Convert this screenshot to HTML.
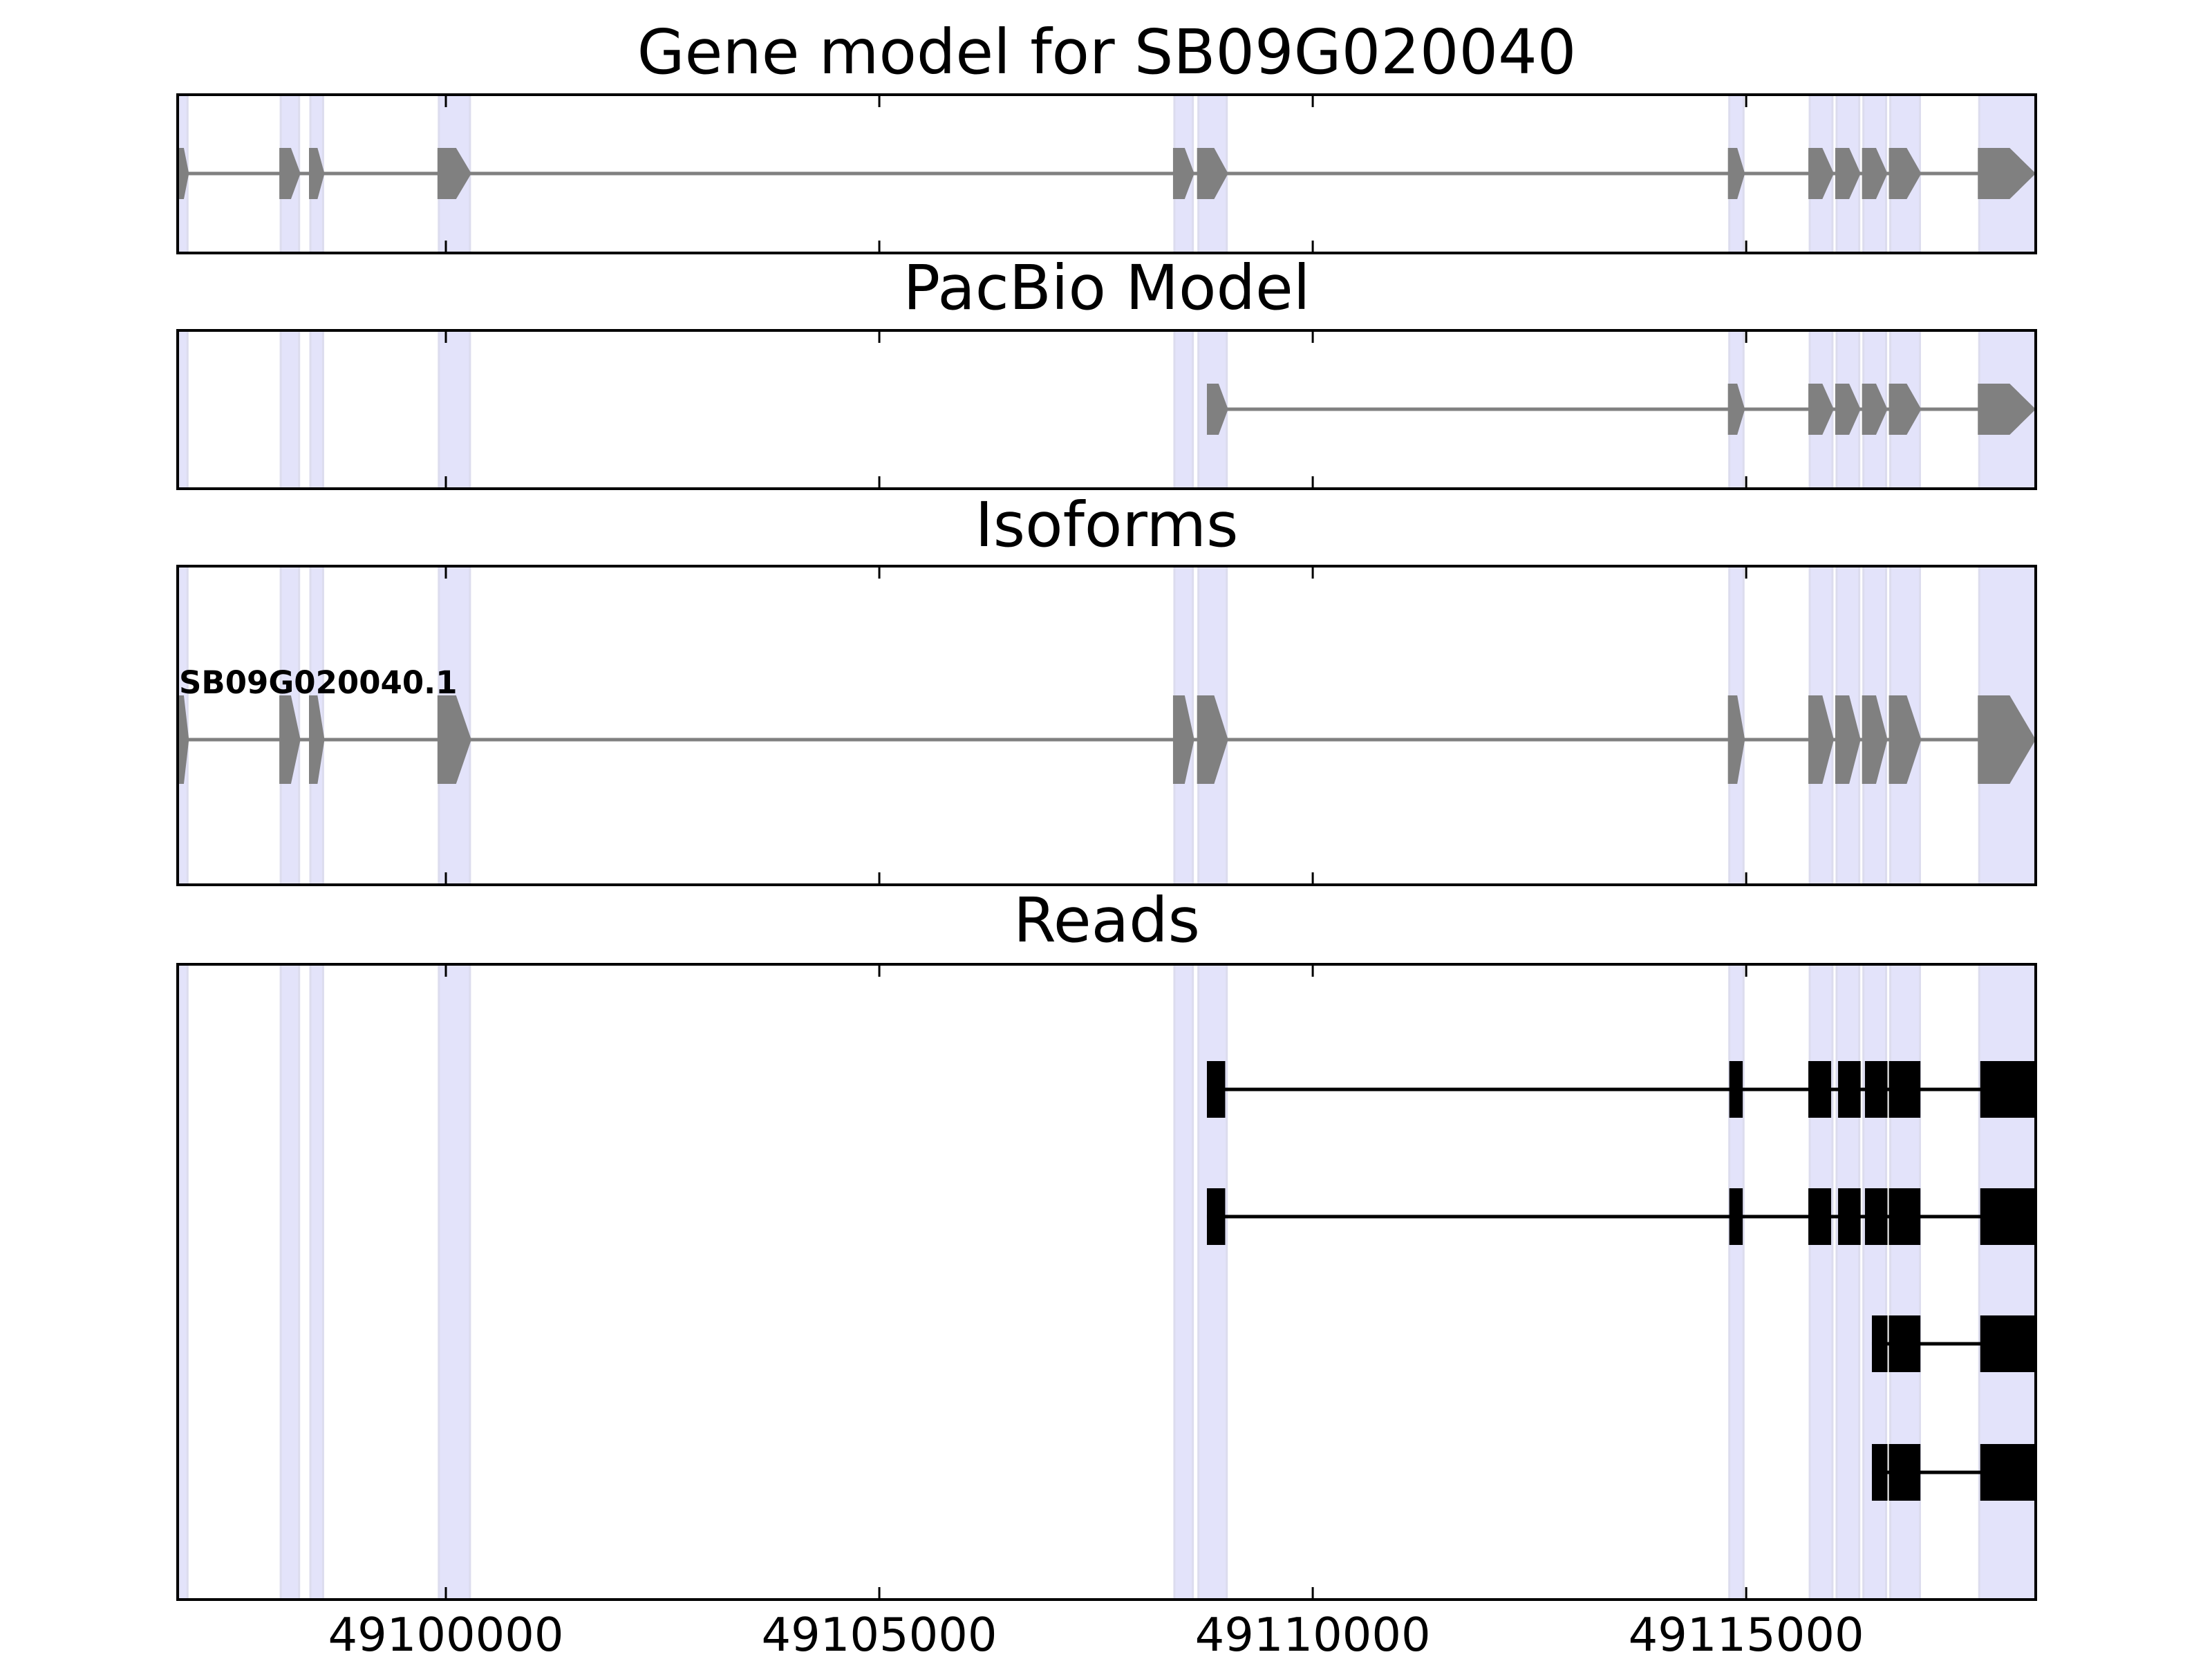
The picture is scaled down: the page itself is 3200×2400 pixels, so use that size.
<!DOCTYPE html>
<html><head><meta charset="utf-8"><style>html,body{margin:0;padding:0;background:#fff}svg{display:block}</style></head>
<body>
<svg id="fig" xmlns="http://www.w3.org/2000/svg" width="3200" height="2400" viewBox="0 0 3200 2400" font-family="'DejaVu Sans','Liberation Sans',sans-serif"></svg>
<script>
const xTicks = [49100000, 49105000, 49110000, 49115000];
const xDomain = [49096906, 49118340];
const geneExonStarts = [49096906, 49098079, 49098421, 49099903, 49108388, 49108665, 49114789, 49115717, 49116027, 49116336, 49116646, 49117672];
const geneExonEnds   = [49097036, 49098323, 49098600, 49100294, 49108633, 49109024, 49114985, 49116011, 49116320, 49116630, 49117020, 49118340];
const pacbioExonStarts = [49108779, 49114789, 49115717, 49116027, 49116336, 49116646, 49117672];
const pacbioExonEnds   = [49109024, 49114985, 49116011, 49116320, 49116630, 49117020, 49118340];
const readAStarts = [49108779, 49114805, 49115717, 49116060, 49116370, 49116646, 49117700];
const readAEnds   = [49108990, 49114960, 49115980, 49116320, 49116630, 49117010, 49118340];
const readBStarts = [49116450, 49116646, 49117700];
const readBEnds   = [49116630, 49117010, 49118340];
const readsStarts = [readAStarts, readAStarts, readBStarts, readBStarts];
const readsEnds = [readAEnds, readAEnds, readBEnds, readBEnds];
const titles = ["Gene model for SB09G020040", "PacBio Model", "Isoforms", "Reads"];

const NS = "http://www.w3.org/2000/svg";
const svg = document.getElementById('fig');
const L = 257, R = 2945;
function sx(v){ return L + (v - xDomain[0]) / (xDomain[1] - xDomain[0]) * (R - L); }
function el(tag, attrs, parent){ const e = document.createElementNS(NS, tag); for (const k in attrs) e.setAttribute(k, attrs[k]); (parent||svg).appendChild(e); return e; }

const panels = [
  {top:137, bottom:366, titleY:106},
  {top:478, bottom:707, titleY:447},
  {top:819, bottom:1280, titleY:790},
  {top:1395, bottom:2314, titleY:1362}
];
const panelNames = ['gene-model-panel','pacbio-panel','isoforms-panel','reads-panel'];

panels.forEach((p, i) => {
  const g = el('g', {});
  
  
  geneExonStarts.forEach((s, j) => {
    const b = el('rect', {x: sx(s)+2, y: p.top, width: Math.max(4, sx(geneExonEnds[j]) - sx(s) - 4), height: p.bottom - p.top, fill: '#e3e3fa', stroke: '#dcdcee', 'stroke-width': 3}, g);
    
    
  });
  const t = el('text', {x: (L+R)/2, y: p.titleY, 'text-anchor': 'middle', 'font-size': 89, fill: '#000'}, svg);
  t.textContent = titles[i];
  
  
  panels[i].g = g;
});

function arrowExon(g, s, e, cy, h, name){
  const x0 = sx(s), x1 = sx(e);
  const w = x1 - x0;
  const tip = Math.min(w * 0.45, 45);
  const pts = [[x0, cy-h],[x1-tip, cy-h],[x1, cy],[x1-tip, cy+h],[x0, cy+h]].map(p=>p.join(',')).join(' ');
  const poly = el('polygon', {points: pts, fill: '#808080'}, g);
  
  
}
function model(g, starts, ends, cy, h, name){
  const ln = el('line', {x1: sx(starts[0]), x2: sx(ends[ends.length-1]), y1: cy, y2: cy, stroke: '#808080', 'stroke-width': 5}, g);
  
  
  starts.forEach((s, j) => arrowExon(g, s, ends[j], cy, h, name + '-exon'));
}
model(panels[0].g, geneExonStarts, geneExonEnds, 251, 37, 'gene-model');
model(panels[1].g, pacbioExonStarts, pacbioExonEnds, 592, 37, 'pacbio');
model(panels[2].g, geneExonStarts, geneExonEnds, 1070, 64, 'isoform');
const lab = el('text', {x: 259, y: 1003, 'font-size': 45, 'font-weight': 'bold', fill: '#000'}, panels[2].g);
lab.textContent = 'SB09G020040.1';



const readY = [1576, 1760, 1944, 2130];
readsStarts.forEach((starts, i) => {
  const ends = readsEnds[i], cy = readY[i];
  const g = el('g', {}, panels[3].g);
  
  
  el('line', {x1: sx(starts[0]), x2: sx(ends[ends.length-1]), y1: cy, y2: cy, stroke: '#000', 'stroke-width': 5}, g);
  starts.forEach((s, j) => {
    const r = el('rect', {x: sx(s), y: cy-41, width: sx(ends[j]) - sx(s), height: 82, fill: '#000'}, g);
    
    
  });
});

panels.forEach((p, i) => {
  const f = el('rect', {x: L, y: p.top, width: R-L, height: p.bottom-p.top, fill: 'none', stroke: '#000', 'stroke-width': 4});
  
  
  xTicks.forEach(v => {
    el('line', {x1: sx(v), x2: sx(v), y1: p.top, y2: p.top+18, stroke: '#000', 'stroke-width': 3});
    el('line', {x1: sx(v), x2: sx(v), y1: p.bottom, y2: p.bottom-18, stroke: '#000', 'stroke-width': 3});
  });
});
xTicks.forEach(v => {
  const t = el('text', {x: sx(v), y: 2388, 'text-anchor': 'middle', 'font-size': 67, fill: '#000'});
  t.textContent = String(v);
  
  
});
</script>
</body></html>
